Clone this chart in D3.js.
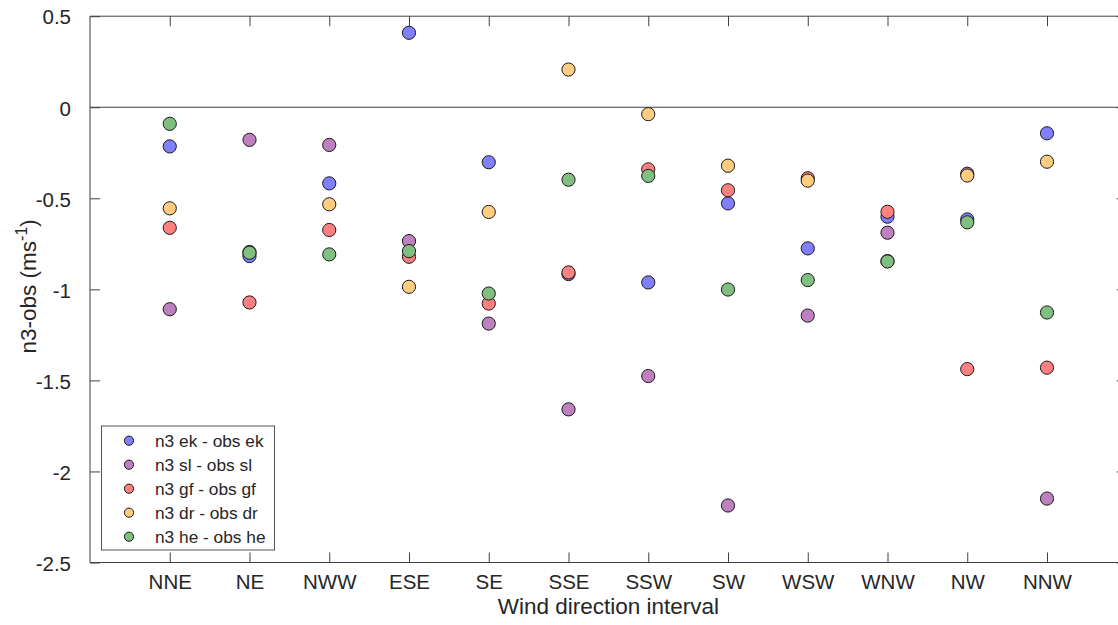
<!DOCTYPE html>
<html>
<head>
<meta charset="utf-8">
<script src="https://cdn.jsdelivr.net/npm/d3@7"></script>
<style>
  html, body { margin: 0; padding: 0; background: #fff; }
  svg { display: block; font-family: "Liberation Sans", Arial, Helvetica, sans-serif; }
</style>
</head>
<body>
<svg id="chart" width="1118" height="625"></svg>
<script>
// ---- data ----
const categories = ["NNE", "NE", "NWW", "ESE", "SE", "SSE", "SSW", "SW", "WSW", "WNW", "NW", "NNW"];
const seriesNames = ["n3 ek - obs ek", "n3 sl - obs sl", "n3 gf - obs gf", "n3 dr - obs dr", "n3 he - obs he"];
const ek = [-0.215, -0.817, -0.418,  0.409, -0.302, -0.916, -0.962, -0.528, -0.775, -0.601, -0.616, -0.143];
const sl = [-1.109, -0.179, -0.207, -0.735, -1.188, -1.659, -1.476, -2.187, -1.144, -0.689, -0.365, -2.149];
const gf = [-0.662, -1.072, -0.674, -0.821, -1.078, -0.907, -0.341, -0.456, -0.390, -0.574, -1.438, -1.430];
const dr = [-0.555, -0.795, -0.533, -0.986, -0.575,  0.207, -0.038, -0.321, -0.403, -0.845, -0.375, -0.299];
const he = [-0.091, -0.799, -0.808, -0.790, -1.023, -0.398, -0.377, -1.001, -0.949, -0.847, -0.632, -1.127];
const seriesValues = [ek, sl, gf, dr, he];
const seriesColors = ["#8080ff", "#bf80bf", "#ff8080", "#ffcc80", "#80bf80"];
const yTicks = [0.5, 0, -0.5, -1, -1.5, -2, -2.5];
const yTickLabels = ["0.5", "0", "-0.5", "-1", "-1.5", "-2", "-2.5"];

// ---- layout ----
const svg = d3.select("#chart");
const L = 90, T = 16.2, B = 562.5;
const step = 79.75;
const x = d3.scaleLinear().domain([0, categories.length + 1]).range([L, L + step * (categories.length + 1)]);
const y = d3.scaleLinear().domain([-2.5, 0.5]).range([B, T]);
const R = x(categories.length + 1);
const axisColor = "#404040";
const textColor = "#262626";
const tickFont = 20.5;

const g = svg.append("g");

// frame lines
g.append("line").attr("x1", L).attr("x2", R).attr("y1", y(0.5)).attr("y2", y(0.5)).attr("stroke", axisColor);
g.append("line").attr("x1", L).attr("x2", R).attr("y1", y(-2.5)).attr("y2", y(-2.5)).attr("stroke", axisColor);
g.append("line").attr("x1", L).attr("x2", L).attr("y1", y(0.5)).attr("y2", y(-2.5)).attr("stroke", axisColor);
g.append("line").attr("x1", R).attr("x2", R).attr("y1", y(0.5)).attr("y2", y(-2.5)).attr("stroke", axisColor);

// zero line
g.append("line").attr("x1", L).attr("x2", R).attr("y1", y(0)).attr("y2", y(0)).attr("stroke", axisColor).attr("stroke-width", 1.2);

// x axis (bottom) with inward ticks
const xIdx = categories.map((d, i) => i + 1);
const xAxisB = d3.axisBottom(x).tickValues(xIdx).tickFormat(i => categories[i - 1]).tickSizeInner(-10).tickSizeOuter(0).tickPadding(12);
const gxb = g.append("g").attr("transform", `translate(0,${y(-2.5)})`).call(xAxisB);
gxb.select(".domain").remove();
gxb.selectAll("line").attr("stroke", axisColor);
gxb.selectAll("text").attr("font-size", tickFont).attr("fill", textColor).attr("font-family", "Liberation Sans, Arial, sans-serif");

const xAxisT = d3.axisTop(x).tickValues(xIdx).tickFormat("").tickSizeInner(-10).tickSizeOuter(0);
const gxt = g.append("g").attr("transform", `translate(0,${y(0.5)})`).call(xAxisT);
gxt.select(".domain").remove();
gxt.selectAll("line").attr("stroke", axisColor);

// y axis (left) with inward ticks
const yAxisL = d3.axisLeft(y).tickValues(yTicks).tickFormat((d, i) => yTickLabels[i]).tickSizeInner(-10).tickSizeOuter(0).tickPadding(19);
const gyl = g.append("g").attr("transform", `translate(${L},0)`).call(yAxisL);
gyl.select(".domain").remove();
gyl.selectAll("line").attr("stroke", axisColor);
gyl.selectAll("text").attr("font-size", tickFont).attr("fill", textColor).attr("font-family", "Liberation Sans, Arial, sans-serif").attr("dy", "0.38em");

const yAxisR = d3.axisRight(y).tickValues(yTicks).tickFormat("").tickSizeInner(-10).tickSizeOuter(0);
const gyr = g.append("g").attr("transform", `translate(${R},0)`).call(yAxisR);
gyr.select(".domain").remove();
gyr.selectAll("line").attr("stroke", axisColor);

// axis titles
svg.append("text")
  .attr("x", x(6.5)).attr("y", 614)
  .attr("text-anchor", "middle")
  .attr("font-size", 22.5).attr("fill", textColor)
  .text("Wind direction interval");

const yl = svg.append("text")
  .attr("transform", `translate(36,${(T + B) / 2 - 3}) rotate(-90)`)
  .attr("text-anchor", "middle")
  .attr("font-size", 22.5).attr("fill", textColor);
yl.append("tspan").text("n3-obs (ms");
yl.append("tspan").attr("font-size", 16).attr("dy", -9).text("-1");
yl.append("tspan").attr("dy", 9).text(")");

// points
seriesValues.forEach((vals, si) => {
  g.append("g").selectAll("circle")
    .data(vals)
    .join("circle")
    .attr("cx", (d, i) => x(i + 1))
    .attr("cy", d => y(d))
    .attr("r", 6.6)
    .attr("fill", seriesColors[si])
    .attr("stroke", "#1a1a1a")
    .attr("stroke-width", 1);
});

// legend
const lg = svg.append("g");
lg.append("rect").attr("x", 101.5).attr("y", 426).attr("width", 173).attr("height", 124)
  .attr("fill", "#fff").attr("stroke", "#555").attr("stroke-width", 1);
seriesNames.forEach((name, i) => {
  const cy = 440.7 + i * 24;
  lg.append("circle").attr("cx", 129).attr("cy", cy).attr("r", 4.6)
    .attr("fill", seriesColors[i]).attr("stroke", "#1a1a1a").attr("stroke-width", 1);
  lg.append("text").attr("x", 155).attr("y", cy + 6).attr("font-size", 17.3).attr("fill", textColor).text(name);
});
</script>
</body>
</html>
